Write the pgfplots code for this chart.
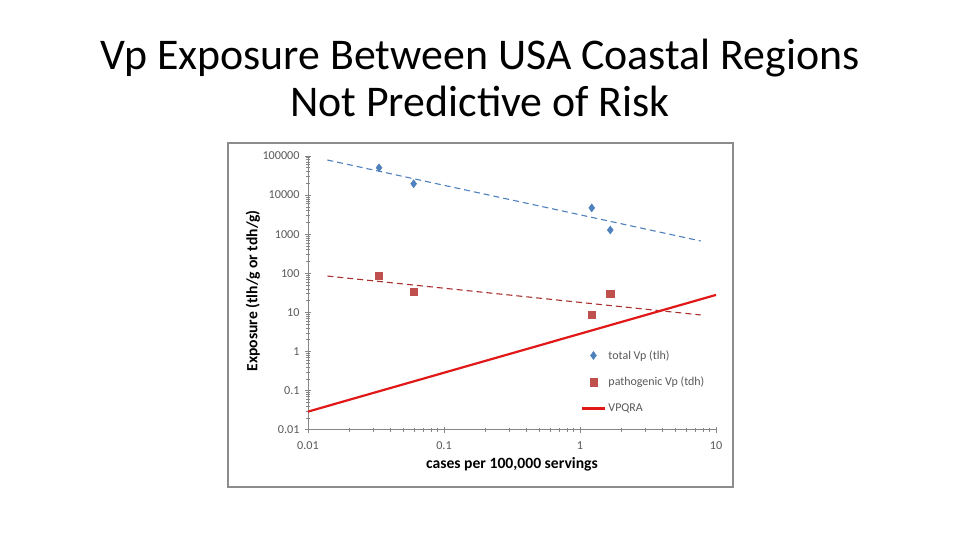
\documentclass[border=0pt]{standalone}
\usepackage{pgfplots}
\pgfplotsset{compat=1.18}
\usepackage{fontspec}
\setmainfont{Carlito}
\definecolor{bluept}{HTML}{4F81BD}
\definecolor{redpt}{HTML}{C0504D}
\definecolor{reddash}{HTML}{A8302E}
\definecolor{vpqra}{HTML}{E01818}
\definecolor{framegray}{HTML}{8C8C8C}
\definecolor{axgray}{HTML}{868686}
\definecolor{ticktext}{HTML}{595959}
\begin{document}
\begin{tikzpicture}[x=1bp,y=1bp]
\path[use as bounding box, fill=white] (0,0) rectangle (960,540);
\node[anchor=base, font=\fontsize{44}{48}\selectfont] at (480,470) {Vp Exposure Between USA Coastal Regions};
\node[anchor=base, font=\fontsize{44}{48}\selectfont] at (480,423) {Not Predictive of Risk};
\draw[framegray, line width=1.2bp] (228,53) rectangle (733,397);
\begin{axis}[
  at={(308bp,110.3bp)}, anchor=south west,
  scale only axis, width=408bp, height=273.7bp,
  xmode=log, ymode=log,
  xmin=0.01, xmax=10, ymin=0.01, ymax=100000,
  axis x line=bottom, axis y line=left,
  axis line style={-, axgray, line width=0.8bp},
  tick style={axgray, line width=0.6bp},
  tick align=center,
  major tick length=6bp, minor tick length=4bp,
  xtick={0.01,0.1,1,10}, xticklabels={0.01,0.1,1,10},
  ytick={0.01,0.1,1,10,100,1000,10000,100000},
  yticklabels={0.01,0.1,1,10,100,1000,10000,100000},
  ticklabel style={font=\fontsize{12.2}{14}\selectfont, text=ticktext},
  xticklabel style={yshift=-5bp},
  yticklabel style={xshift=-2bp},
  xlabel={\textbf{cases per 100,000 servings}},
  ylabel={\textbf{Exposure (tlh/g or tdh/g)}},
  label style={font=\fontsize{15.7}{18}\selectfont},
  xlabel style={at={(axis description cs:0.5,-0.128)}, anchor=center},
  ylabel style={at={(axis description cs:-0.135,0.507)}, anchor=center, rotate=0},
  legend style={at={(axis description cs:0.66,0.305)}, anchor=north west, draw=none, fill=none,
    font=\fontsize{12}{14}\selectfont, row sep=12.5bp, text=ticktext},
  legend cell align=left,
  legend image code/.code={\draw[mark repeat=2,mark phase=2] plot coordinates {(0cm,0cm)(0.42cm,0cm)(0.84cm,0cm)};},
  clip=false,
]
\addplot[bluept, dashed, dash pattern=on 6bp off 4bp, line width=1.1bp, forget plot] coordinates {(0.01387,79000) (7.72,670)};
\addplot[reddash, dashed, dash pattern=on 6bp off 4bp, line width=1.1bp, forget plot] coordinates {(0.01387,85) (7.72,8.6)};
\addplot[only marks, mark=diamond*, mark size=4bp, color=bluept] coordinates {
  (0.0333,50000) (0.0598,19500) (1.22,4700) (1.67,1280)};
\addlegendentry{total Vp (tlh)}
\addplot[only marks, mark=square*, mark size=3.6bp, color=redpt] coordinates {
  (0.0333,87) (0.0598,34) (1.22,8.7) (1.67,29.6)};
\addlegendentry{pathogenic Vp (tdh)}
\addplot[vpqra, line width=2.2bp, no marks] coordinates {(0.01,0.029) (10,28)};
\addlegendentry{VPQRA}
\end{axis}
\end{tikzpicture}
\end{document}
